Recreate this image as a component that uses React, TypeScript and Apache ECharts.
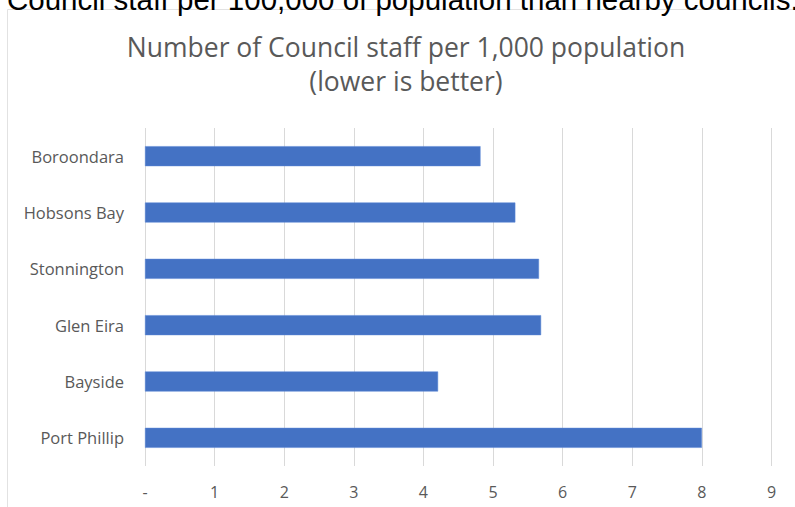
import React, { useEffect, useRef } from "react";
import * as echarts from "echarts";

const categories = ["Boroondara", "Hobsons Bay", "Stonnington", "Glen Eira", "Bayside", "Port Phillip"];
const staffPer1000 = [4.82, 5.32, 5.66, 5.69, 4.21, 8.0];
const titleLines = ["Number of Council staff per 1,000 population", "(lower is better)"];
const captionText = "Council staff per 100,000 of population than nearby councils.";

export default function App() {
  const ref = useRef<HTMLDivElement>(null);
  useEffect(() => {
    if (!ref.current) return;
    const chart = echarts.init(ref.current, undefined, { renderer: "svg" });
    chart.setOption({
      animation: false,
      backgroundColor: "#ffffff",
      graphic: [
        {
          type: "rect",
          shape: { x: 7.5, y: 9.5, width: 800, height: 520 },
          style: { fill: "none", stroke: "#e2e2e2", lineWidth: 1 },
          z: -1,
        },
        {
          type: "text",
          left: 7,
          top: -16,
          style: {
            text: captionText,
            font: "29.5px 'Liberation Sans', Arial, sans-serif",
            fill: "#000000",
          },
        },
      ],
      title: {
        text: titleLines.join("\n"),
        left: 401,
        textAlign: "center",
        top: 25,
        textStyle: {
          fontFamily: "'Open Sans'",
          fontSize: 26.5,
          fontWeight: "normal",
          color: "#595959",
          lineHeight: 34,
        },
      },
      grid: { left: 145, right: 23.5, top: 128, bottom: 41, containLabel: false },
      xAxis: {
        type: "value",
        min: 0,
        max: 9,
        interval: 1,
        axisLine: { show: false },
        axisTick: { show: false },
        splitLine: { show: true, lineStyle: { color: "#d9d9d9", width: 1 } },
        axisLabel: {
          margin: 18,
          fontFamily: "'Open Sans'",
          fontSize: 16,
          color: "#595959",
          formatter: (v: number) => (v === 0 ? "-" : String(v)),
        },
      },
      yAxis: {
        type: "category",
        data: categories,
        inverse: true,
        axisLine: { show: false },
        axisTick: { show: false },
        axisLabel: {
          margin: 21,
          fontFamily: "'Open Sans'",
          fontSize: 16.5,
          color: "#595959",
        },
      },
      series: [
        {
          type: "bar",
          data: staffPer1000,
          barWidth: 20,
          itemStyle: { color: "#4472c4", borderColor: "#5a86d6", borderWidth: 0.5 },
        },
      ],
    });
    return () => chart.dispose();
  }, []);
  return <div ref={ref} style={{ position: "fixed", left: 0, top: 0, width: 795, height: 507 }} />;
}
